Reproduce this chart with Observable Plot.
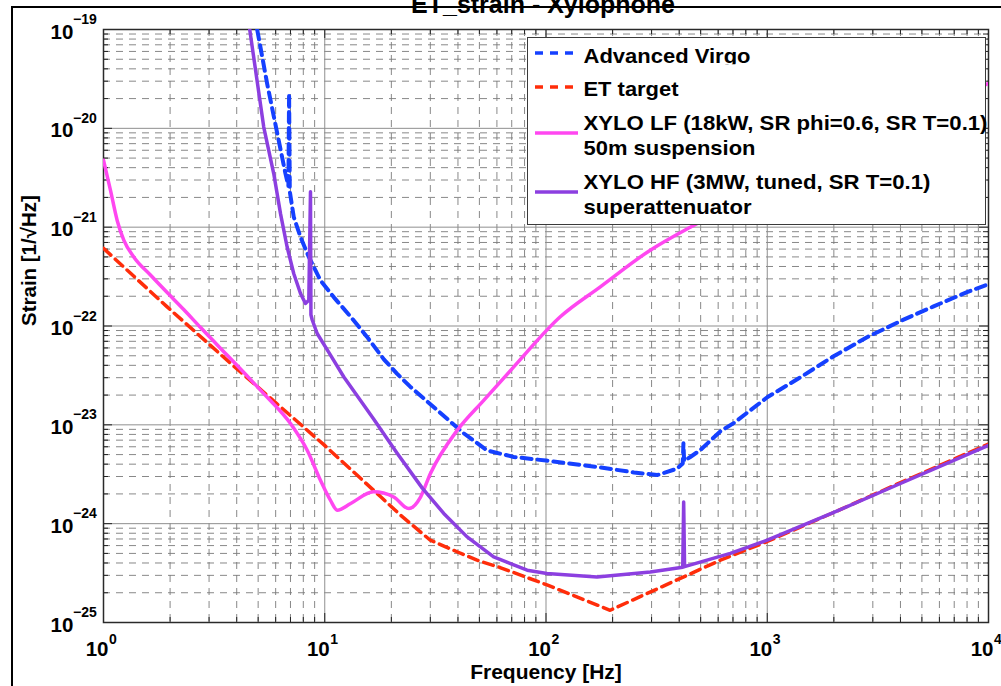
<!DOCTYPE html>
<html><head><meta charset="utf-8">
<script src="https://cdn.jsdelivr.net/npm/d3@7"></script>
<script src="https://cdn.jsdelivr.net/npm/@observablehq/plot@0.6"></script>
<style>
html,body{margin:0;padding:0;background:#fff;overflow:hidden;}
#wrap{position:relative;width:1001px;height:686px;overflow:hidden;font-family:'Liberation Sans',Arial,Helvetica,sans-serif;}
#border{position:absolute;left:11px;top:6px;width:1200px;height:900px;border-left:2px solid #000;border-top:2px solid #000;}
#chart{position:absolute;left:0;top:0;}
#legend{position:absolute;left:527px;top:36.5px;width:459px;height:188px;box-sizing:border-box;background:#fff;border:1.5px solid #3a3a3a;}
#legsvg{position:absolute;left:0;top:0;}
</style></head><body>
<div id="wrap"><div id="border"></div><div id="chart"></div><div id="legend"></div><svg id="legsvg" width="1001" height="686"></svg></div>
<script>
// ---- tick values ----
const xExp = [0, 1, 2, 3, 4];
const yExp = [-25, -24, -23, -22, -21, -20, -19];
const xMajor = [1, 10, 100, 1000, 10000];
const yMajor = [1e-25, 1e-24, 1e-23, 1e-22, 1e-21, 1e-20, 1e-19];
const minorMult = [2, 3, 4, 5, 6, 7, 8, 9];

// ---- series: Advanced Virgo ----
const freqAdV = [4.95, 5.49, 6.1, 6.64, 6.85, 6.9, 6.95, 7.24, 7.77, 8.47, 9.56, 11.0, 13.1, 15.5, 18.5, 21.2, 24.4, 32.2, 42.5, 54.2, 71.5, 100, 170, 250, 318, 391, 415, 418, 421, 449, 499, 614, 705, 1000, 1413, 1995, 2825, 3994, 5650, 8000, 10000];
const strainAdV = [1e-19, 2.84e-20, 8.9e-21, 3.5e-21, 2.6e-21, 2.26e-20, 2.3e-21, 1.27e-21, 7.96e-22, 5.0e-22, 2.9e-22, 1.95e-22, 1.24e-22, 7.8e-23, 4.6e-23, 3.3e-23, 2.42e-23, 1.41e-23, 8.2e-24, 5.5e-24, 4.73e-24, 4.35e-24, 3.75e-24, 3.3e-24, 3.1e-24, 3.6e-24, 4.07e-24, 6.5e-24, 4.3e-24, 4.73e-24, 5.57e-24, 8.6e-24, 1.04e-23, 1.9e-23, 3.03e-23, 4.94e-23, 7.7e-23, 1.12e-22, 1.58e-22, 2.2e-22, 2.65e-22];

// ---- series: ET target ----
const freqET = [1, 1.94, 3.75, 9.9, 17.9, 22, 30, 39.6, 48.8, 62, 101, 195, 614, 1000, 2000, 4000, 10000];
const strainET = [6.1e-22, 1.56e-22, 4.2e-23, 6.3e-24, 1.87e-24, 1.22e-24, 6.8e-25, 5.2e-25, 4.27e-25, 3.6e-25, 2.4e-25, 1.33e-25, 4.27e-25, 6.6e-25, 1.3e-24, 2.6e-24, 6.4e-24];

// ---- series: XYLO LF ----
const freqLF = [1, 1.075, 1.153, 1.235, 1.37, 1.63, 1.94, 2.31, 2.74, 3.26, 4.62, 5.3, 7.0, 8.33, 9.56, 10.6, 11.4, 13.1, 16.6, 20.5, 24.0, 27.1, 30, 39.7, 52.3, 71.5, 116, 176, 296, 449, 1000, 3000, 10000];
const strainLF = [4.76e-21, 2.37e-21, 1.17e-21, 7.38e-22, 5.0e-22, 3.28e-22, 2.18e-22, 1.46e-22, 9.7e-23, 6.47e-23, 2.87e-23, 2.07e-23, 1.03e-23, 5.53e-24, 2.75e-24, 1.73e-24, 1.37e-24, 1.6e-24, 2.1e-24, 1.86e-24, 1.42e-24, 1.86e-24, 3.2e-24, 8.8e-24, 1.77e-23, 3.86e-23, 1.24e-22, 2.49e-22, 5.85e-22, 1.0e-21, 2.4e-21, 8.0e-21, 2.85e-20];

// ---- series: XYLO HF ----
const freqHF = [4.58, 5.3, 5.88, 6.31, 6.76, 7.24, 7.77, 8.18, 8.47, 8.62, 8.66, 8.78, 9.24, 10.6, 12.2, 16.6, 21.2, 27.6, 34.5, 44, 58, 82.2, 101, 170, 296, 415, 419, 423, 681, 1000, 2000, 4000, 10000];
const strainHF = [1e-19, 1.03e-20, 3.49e-21, 1.37e-21, 6.3e-22, 3.4e-22, 2.13e-22, 1.69e-22, 1.82e-22, 2.28e-21, 1.3e-22, 1.15e-22, 8.4e-23, 5.1e-23, 3.05e-23, 1.15e-23, 5.2e-24, 2.29e-24, 1.27e-24, 7.35e-25, 4.61e-25, 3.38e-25, 3.13e-25, 2.89e-25, 3.25e-25, 3.63e-25, 1.66e-24, 3.67e-25, 5e-25, 6.8e-25, 1.3e-24, 2.55e-24, 6.2e-24];

// ---- legend ----
const seriesNames = ["Advanced Virgo", "ET target", "XYLO LF (18kW, SR phi=0.6, SR T=0.1)", "XYLO HF (3MW, tuned, SR T=0.1)"];
const seriesSub = ["", "", "50m suspension", "superattenuator"];
const colors = ["#1540ff", "#ff2d0a", "#ff47f0", "#8c3fe0"];

const toRows = (fs, hs) => fs.map((f, i) => ({f, h: hs[i]}));
const adv = toRows(freqAdV, strainAdV);
const et = toRows(freqET, strainET);
const lf = toRows(freqLF, strainLF);
const hf = toRows(freqHF, strainHF);

const xMinor = xMajor.slice(0, -1).flatMap(d => minorMult.map(m => m * d));
const yMinor = yMajor.slice(0, -1).flatMap(d => minorMult.map(m => m * d));

const W = 1001, H = 686, mL = 103, mR = 13, mT = 29, mB = 64;
const pW = W - mL - mR, pH = H - mT - mB;
const minorLen = 5, majorLen = 9;
const font = "'Liberation Sans', Arial, Helvetica, sans-serif";

const plot = Plot.plot({
  width: W, height: H,
  marginLeft: mL, marginRight: mR, marginTop: mT, marginBottom: mB,
  x: {type: "log", domain: [1, 1e4], axis: null},
  y: {type: "log", domain: [1e-25, 1e-19], axis: null},
  style: {background: "transparent", fontFamily: font, overflow: "visible"},
  marks: [
    Plot.ruleX(xMinor, {stroke: "#7a7a7a", strokeWidth: 0.9, strokeDasharray: "7,6"}),
    Plot.ruleY(yMinor, {stroke: "#7a7a7a", strokeWidth: 0.9, strokeDasharray: "7,6"}),
    Plot.ruleX(xMajor, {stroke: "#8f8f8f", strokeWidth: 1}),
    Plot.ruleY(yMajor, {stroke: "#8f8f8f", strokeWidth: 1}),
    Plot.tickX(xMinor, {insetTop: pH - minorLen, stroke: "#222"}),
    Plot.tickX(xMinor, {insetBottom: pH - minorLen, stroke: "#222"}),
    Plot.tickY(yMinor, {insetRight: pW - minorLen, stroke: "#222"}),
    Plot.tickY(yMinor, {insetLeft: pW - minorLen, stroke: "#222"}),
    Plot.tickX(xMajor, {insetTop: pH - majorLen, stroke: "#222"}),
    Plot.tickX(xMajor, {insetBottom: pH - majorLen, stroke: "#222"}),
    Plot.tickY(yMajor, {insetRight: pW - majorLen, stroke: "#222"}),
    Plot.tickY(yMajor, {insetLeft: pW - majorLen, stroke: "#222"}),
    Plot.frame({stroke: "#2a2a2a", strokeWidth: 1.5}),
    Plot.line(adv, {x: "f", y: "h", stroke: colors[0], strokeWidth: 4, strokeDasharray: "10,6", clip: true}),
    Plot.line(et, {x: "f", y: "h", stroke: colors[1], strokeWidth: 3.5, strokeDasharray: "10,6", clip: true}),
    Plot.line(lf, {x: "f", y: "h", stroke: colors[2], strokeWidth: 3.5, curve: "monotone-x", clip: true}),
    Plot.line(hf, {x: "f", y: "h", stroke: colors[3], strokeWidth: 3.5, clip: true}),
    // tick labels
    Plot.text(xExp, {x: d => 10 ** d, frameAnchor: "bottom", text: () => "10", textAnchor: "end", lineAnchor: "bottom", dx: 5, dy: 33, fontSize: 20.5, fontWeight: "bold"}),
    Plot.text(xExp, {x: d => 10 ** d, frameAnchor: "bottom", text: d => String(d), textAnchor: "start", lineAnchor: "bottom", dx: 5.5, dy: 21, fontSize: 14, fontWeight: "bold"}),
    Plot.text(yExp, {y: d => 10 ** d, frameAnchor: "left", text: () => "10", textAnchor: "start", lineAnchor: "bottom", dx: -53, dy: 9, fontSize: 20.5, fontWeight: "bold"}),
    Plot.text(yExp, {y: d => 10 ** d, frameAnchor: "left", text: d => "\u2212" + Math.abs(d), textAnchor: "start", lineAnchor: "bottom", dx: -30.5, dy: -5.5, fontSize: 14, fontWeight: "bold"}),
    // axis labels
    Plot.text(["Frequency [Hz]"], {text: d => d, frameAnchor: "bottom", lineAnchor: "bottom", dy: 56, fontSize: 21, fontWeight: "bold"}),
    Plot.text(["Strain [1/\u221AHz]"], {text: d => d, frameAnchor: "left", rotate: -90, lineAnchor: "bottom", dx: -68, fontSize: 20.5, fontWeight: "bold"}),
    // title (partly cut at top, as in the reference)
    Plot.text(["ET_strain - Xylophone"], {text: d => d, frameAnchor: "top", lineAnchor: "bottom", dx: -3, dy: -17, fontSize: 25, fontWeight: "bold"})
  ]
});
document.getElementById("chart").appendChild(plot);

// legend overlay
const leg = d3.select("#legsvg").style("font-family", font);
leg.append("defs").append("clipPath").attr("id", "clipAdv").append("rect").attr("x", 520).attr("y", 30).attr("width", 480).attr("height", 34.3);
const sampleY = [53, 87, 133, 192];
const dashes = ["8,7", "8,7", null, null];
const textBase = [[62.7], [96.3], [129.7, 154.7], [188.7, 213.7]];
const textLens = [[167], [95], [404, 172], [347, 168]];
seriesNames.forEach((name, i) => {
  const l = leg.append("line").attr("x1", 535).attr("x2", 578).attr("y1", sampleY[i]).attr("y2", sampleY[i])
    .attr("stroke", colors[i]).attr("stroke-width", 3.5);
  if (dashes[i]) l.attr("stroke-dasharray", dashes[i]);
  const lines = seriesSub[i] ? [name, seriesSub[i]] : [name];
  lines.forEach((t, j) => {
    const tx = leg.append("text").attr("x", 583.5).attr("y", textBase[i][j]).attr("font-size", 20.5).attr("font-weight", "bold")
      .attr("textLength", textLens[i][j]).attr("lengthAdjust", "spacingAndGlyphs").text(t);
    if (i === 0) tx.attr("clip-path", "url(#clipAdv)");
  });
});
</script></body></html>
